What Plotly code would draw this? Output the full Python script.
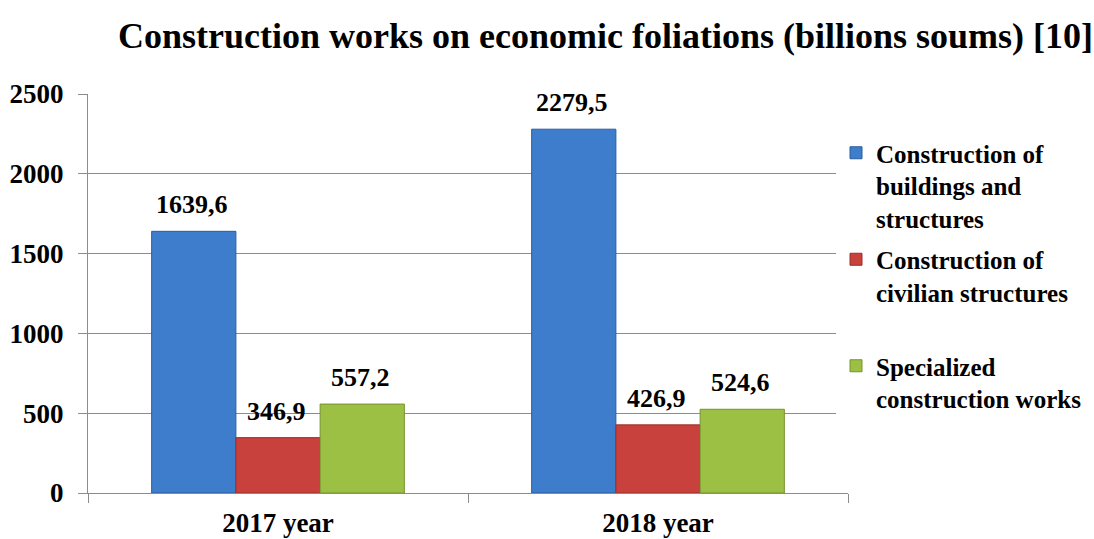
import plotly.graph_objects as go

categories = ["2017 year", "2018 year"]
series_names = ["Construction of<br>buildings and<br>structures",
                "Construction of<br>civilian structures<br> ",
                "Specialized<br>construction works"]
buildings = [1639.6, 2279.5]
civilian = [346.9, 426.9]
specialized = [557.2, 524.6]
y_ticks = [0, 500, 1000, 1500, 2000, 2500]

colors = ["#3E7DCC", "#C9413D", "#9CC044"]
edges = ["#2A5C9E", "#9A2E2A", "#76932E"]
FONT = "Liberation Serif"

fig = go.Figure()
all_series = [buildings, civilian, specialized]
for i, (name, vals) in enumerate(zip(series_names, all_series)):
    fig.add_trace(go.Bar(
        x=categories, y=vals, name=name,
        marker=dict(color=colors[i], line=dict(color=edges[i], width=1)),
        legendgroup=f"g{i}",
    ))

# value labels (comma decimal separator)
L, R = 88, 848
cat_w = (R - L) / len(categories)
bar_w = cat_w * (1 - 0.335) / 3
for i, vals in enumerate(all_series):
    for c, v in zip(categories, vals):
        fig.add_annotation(
            x=c, y=v, text=f"{v:.1f}".replace(".", ","),
            showarrow=False, yanchor="bottom", yshift=10,
            xshift=(i - 1) * bar_w - 2,
            font=dict(family=FONT, size=26, color="black", weight="bold"),
        )

fig.update_layout(
    width=1094, height=539,
    margin=dict(l=L, r=1094 - R, t=94, b=46, autoexpand=False),
    paper_bgcolor="white", plot_bgcolor="white",
    barmode="group", bargap=0.335, bargroupgap=0,
    title=dict(text="<b>Construction works on economic foliations (billions soums) [10]</b>",
               x=118 / 1094, xref="container", xanchor="left",
               y=1 - 35 / 539, yref="container", yanchor="middle",
               pad=dict(l=0, r=0, t=0, b=0),
               font=dict(family=FONT, size=36, color="black")),
    font=dict(family=FONT, color="black"),
    legend=dict(x=836 / 1094, xref="container", xanchor="left",
                y=1 - 130 / 539, yref="container", yanchor="top",
                traceorder="grouped", tracegroupgap=6, valign="top",
                maxheight=420,
                font=dict(family=FONT, size=25, color="black", weight="bold"),
                itemwidth=30),
    showlegend=True,
)
fig.update_yaxes(range=[0, 2500], tickvals=y_ticks, showgrid=True,
                 gridcolor="#8C8C8C", gridwidth=1,
                 showline=True, linecolor="#8C8C8C", linewidth=1,
                 ticks="outside", ticklen=9, tickcolor="#8C8C8C",
                 ticklabelstandoff=9, automargin=False,
                 tickfont=dict(family=FONT, size=27, color="black", weight="bold"),
                 zeroline=False)
fig.update_xaxes(showline=True, linecolor="#8C8C8C", linewidth=1,
                 ticks="outside", ticklen=9, tickcolor="#8C8C8C",
                 tickson="boundaries", ticklabelstandoff=6, automargin=False,
                 tickfont=dict(family=FONT, size=27, color="black", weight="bold"))

fig.write_html("out.html")
